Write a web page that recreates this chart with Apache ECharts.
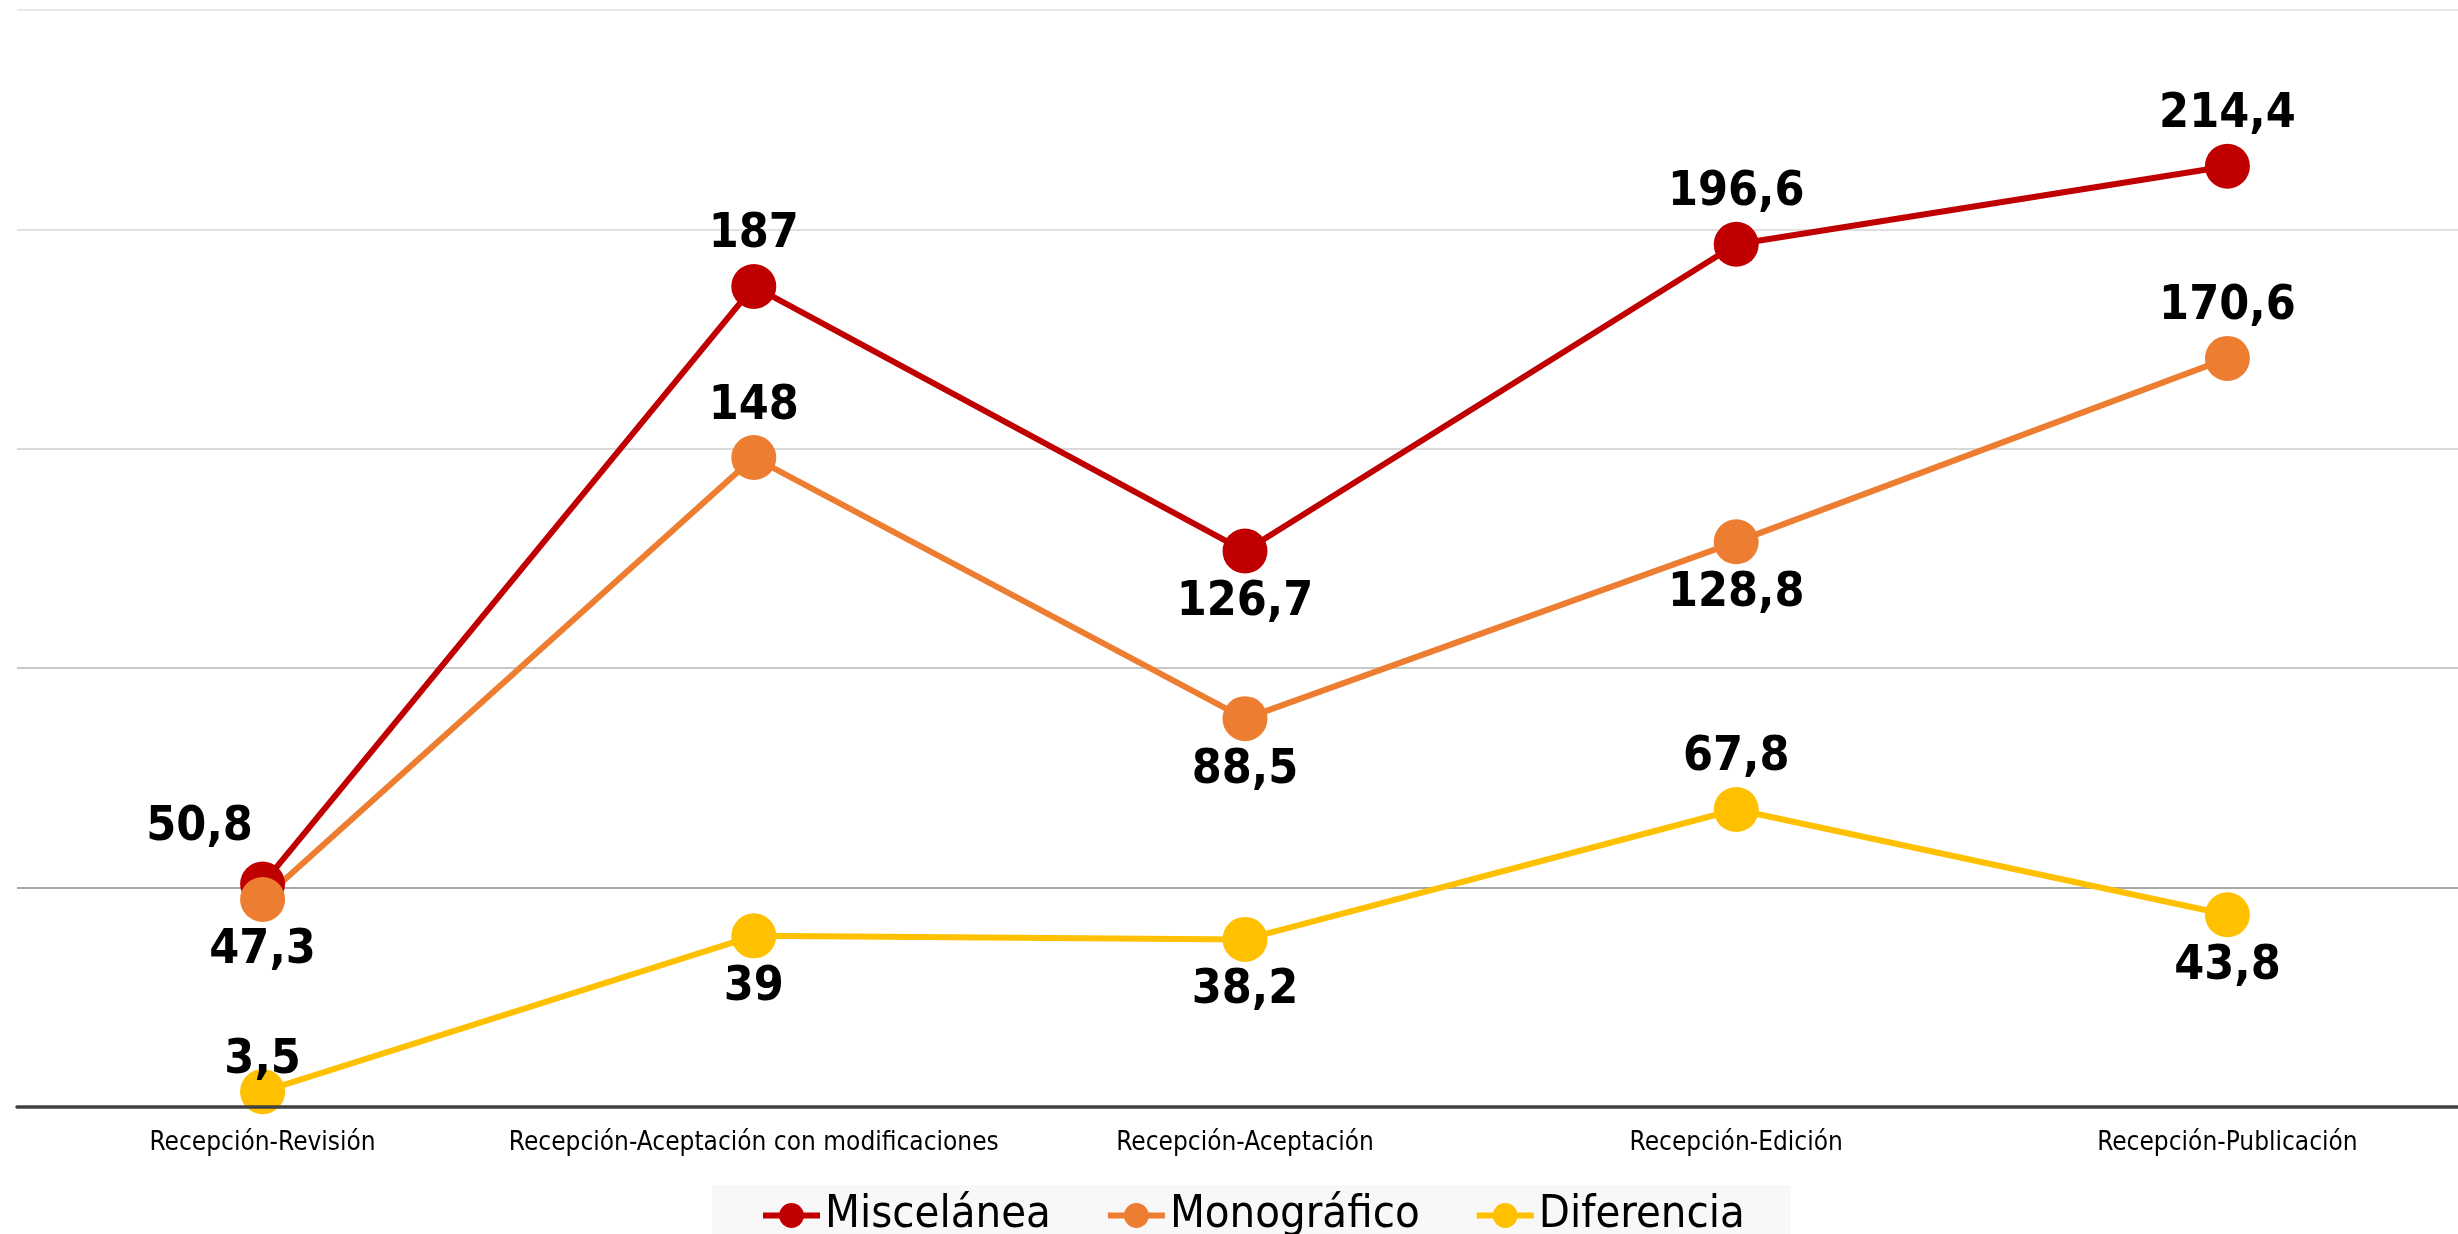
<!DOCTYPE html>
<html>
	<head>
		<meta charset="utf-8">
		<title>Recepción - tiempos</title>
		<style>
html, body {
	width: 100%;
	height: 100%;
	margin: 0;
	background: #fff;
}
#box1 {
	width: 2458px;
	height: 1234px;
}
		</style>
	</head>
	<body>
		<div id="box1"></div>
	</body>
	<script src="https://cdn.jsdelivr.net/npm/echarts@6/dist/echarts.min.js"></script>
	<script type="text/javascript">
var categories = ['Recepción-Revisión', 'Recepción-Aceptación con modificaciones', 'Recepción-Aceptación', 'Recepción-Edición', 'Recepción-Publicación'];
var miscelanea = [50.8, 187, 126.7, 196.6, 214.4];
var monografico = [47.3, 148, 88.5, 128.8, 170.6];
var diferencia = [3.5, 39, 38.2, 67.8, 43.8];

// where each label sits relative to its point
var miscPos = ['top', 'top', 'bottom', 'top', 'top'];
var monoPos = ['bottom', 'top', 'bottom', 'bottom', 'top'];
var difPos = ['top', 'bottom', 'bottom', 'top', 'bottom'];
var miscOff = [[-63, -5], [0, 0], [0, 0], [0, 0], [0, 0]];
var monoOff = [[0, 0], [0, 0], [0, 0], [0, 0], [0, 0]];
var difOff = [[0, 20], [0, 0], [0, 0], [0, 0], [0, 0]];

var FONT = '"DejaVu Sans Condensed", "DejaVu Sans", sans-serif';

function fmt(v) {
	return String(v).replace('.', ',');
}

function build(values, pos, off) {
	return values.map(function (v, i) {
		return {
			value: v,
			label: { position: pos[i], offset: off[i] }
		};
	});
}

function lineSeries(name, color, values, pos, off) {
	return {
		name: name,
		type: 'line',
		data: build(values, pos, off),
		symbol: 'circle',
		symbolSize: 45,
		lineStyle: { color: color, width: 6 },
		itemStyle: { color: color },
		label: {
			show: true,
			distance: 5,
			color: '#000',
			fontFamily: FONT,
			fontWeight: 'bold',
			fontSize: 48,
			formatter: function (p) { return fmt(p.value); }
		},
		z: 2
	};
}

var myChart = echarts.init(document.getElementById('box1'));

var option = {
	backgroundColor: '#fff',
	animation: false,
	grid: {
		left: 17,
		top: 10,
		width: 2456,
		height: 1097,
		outerBoundsMode: 'none'
	},
	legend: {
		left: 712,
		top: 1185,
		width: 1070,
		padding: [8, 46, 40, 48],
		backgroundColor: '#f8f8f8',
		itemWidth: 57,
		itemHeight: 31,
		itemGap: 54,
		lineStyle: { width: 6 },
		textStyle: {
			fontFamily: FONT,
			fontSize: 45,
			color: '#000'
		}
	},
	xAxis: {
		type: 'category',
		data: categories,
		axisLine: { lineStyle: { color: '#404040', width: 3.5 } },
		axisTick: { show: false },
		axisLabel: {
			interval: 0,
			margin: 23,
			fontFamily: FONT,
			fontSize: 26,
			color: '#000'
		},
		z: 3
	},
	yAxis: {
		type: 'value',
		min: 0,
		max: 250,
		interval: 50,
		axisLabel: { show: false },
		axisLine: { show: false },
		axisTick: { show: false },
		splitLine: {
			lineStyle: {
				width: 2,
				color: ['#bfbfbf', '#a6a6a6', '#c8c8c8', '#d9d9d9', '#e0e0e0', '#e8e8e8']
			}
		}
	},
	series: [
		lineSeries('Miscelánea', '#C00000', miscelanea, miscPos, miscOff),
		lineSeries('Monográfico', '#ED7D31', monografico, monoPos, monoOff),
		lineSeries('Diferencia', '#FFC000', diferencia, difPos, difOff)
	]
};

myChart.setOption(option);

window.addEventListener('resize', () => {
	myChart.resize()
})
	</script>
</html>
